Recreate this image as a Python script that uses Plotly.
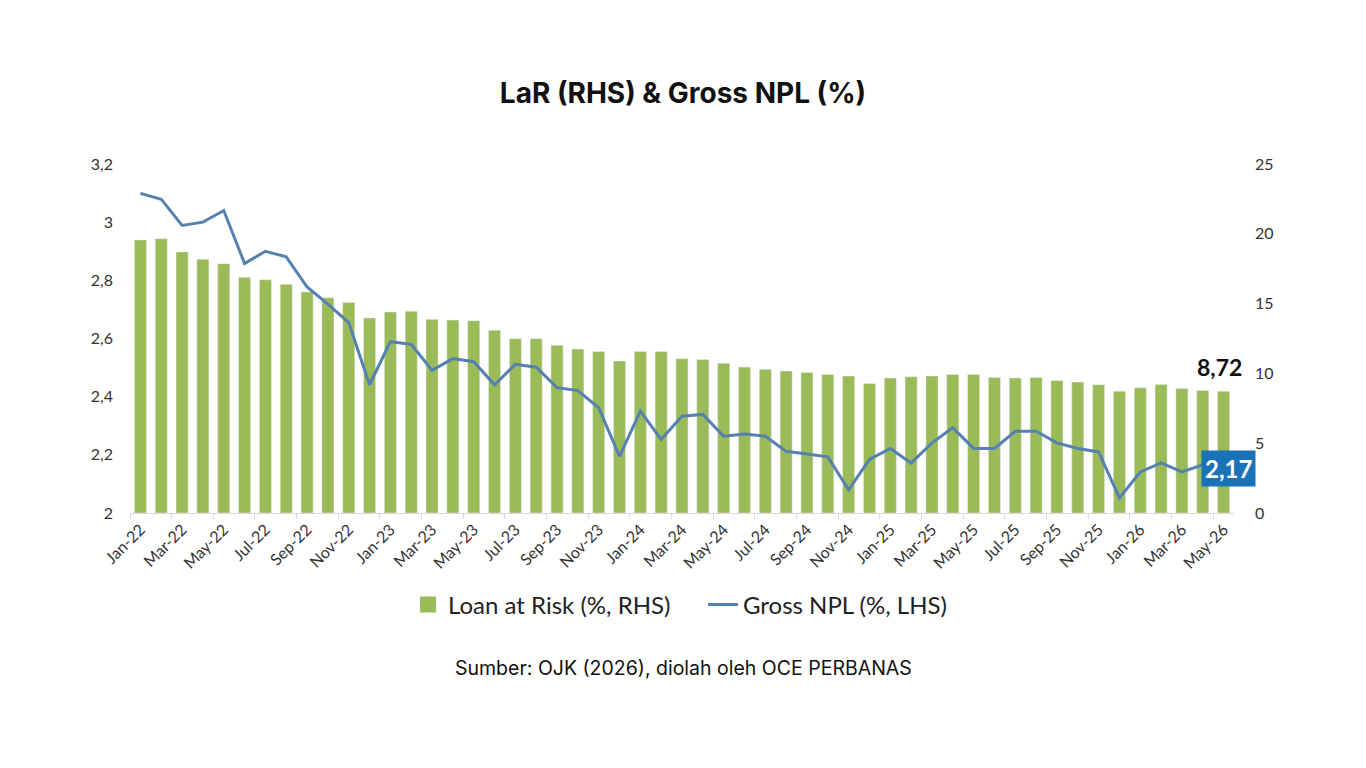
import plotly.graph_objects as go

months = ["Jan-22","Feb-22","Mar-22","Apr-22","May-22","Jun-22","Jul-22","Aug-22","Sep-22","Oct-22","Nov-22","Dec-22",
          "Jan-23","Feb-23","Mar-23","Apr-23","May-23","Jun-23","Jul-23","Aug-23","Sep-23","Oct-23","Nov-23","Dec-23",
          "Jan-24","Feb-24","Mar-24","Apr-24","May-24","Jun-24","Jul-24","Aug-24","Sep-24","Oct-24","Nov-24","Dec-24",
          "Jan-25","Feb-25","Mar-25","Apr-25","May-25","Jun-25","Jul-25","Aug-25","Sep-25","Oct-25","Nov-25","Dec-25",
          "Jan-26","Feb-26","Mar-26","Apr-26","May-26"]

lar = [19.56, 19.65, 18.70, 18.17, 17.86, 16.88, 16.71, 16.38, 15.83, 15.42, 15.07, 13.97,
       14.40, 14.45, 13.87, 13.82, 13.78, 13.09, 12.49, 12.49, 12.01, 11.75, 11.56, 10.89,
       11.56, 11.56, 11.05, 11.00, 10.72, 10.45, 10.29, 10.17, 10.07, 9.93, 9.81, 9.28,
       9.67, 9.76, 9.81, 9.93, 9.93, 9.71, 9.67, 9.71, 9.50, 9.38, 9.19, 8.73,
       8.97, 9.21, 8.92, 8.78, 8.72]

npl = [3.099, 3.079, 2.989, 3.000, 3.040, 2.858, 2.900, 2.881, 2.777, 2.718, 2.655, 2.441,
       2.589, 2.580, 2.491, 2.531, 2.520, 2.441, 2.511, 2.501, 2.431, 2.421, 2.362, 2.195,
       2.350, 2.253, 2.333, 2.339, 2.264, 2.272, 2.264, 2.212, 2.203, 2.193, 2.080, 2.184,
       2.222, 2.172, 2.241, 2.293, 2.222, 2.222, 2.281, 2.281, 2.241, 2.222, 2.210, 2.052,
       2.141, 2.172, 2.141, 2.166, 2.170]

left_vals = [2, 2.2, 2.4, 2.6, 2.8, 3, 3.2]
left_text = ["2", "2,2", "2,4", "2,6", "2,8", "3", "3,2"]
right_vals = [0, 5, 10, 15, 20, 25]
right_text = ["0", "5", "10", "15", "20", "25"]

title_text = "LaR (RHS) & Gross NPL (%)"
source_text = "Sumber: OJK (2026), diolah oleh OCE PERBANAS"
lar_label = "8,72"
npl_label = "2,17"

GREEN = "#9bbb59"
BLUE = "#5580b0"

# the page has an 8px body margin; lay out in page pixels minus that offset
OFF = 8
L, R, T, B = 130 - OFF, 1234 - OFF, 164 - OFF, 513 - OFF
W, H = R - L, B - T

fig = go.Figure()
# bars on primary axis (shown on right), line on overlaying axis (shown on left) -> line on top
fig.add_trace(go.Bar(x=months, y=lar, name="Loan at Risk (%, RHS)", marker_color=GREEN,
                     yaxis="y", showlegend=False))
# legend-only entry with a larger square swatch
fig.add_trace(go.Scatter(x=[None], y=[None], name="Loan at Risk (%, RHS)", mode="markers",
                         marker=dict(symbol="square", size=16, color=GREEN), yaxis="y"))
fig.add_trace(go.Scatter(x=months, y=npl, name="Gross NPL (%, LHS)", mode="lines",
                         line=dict(color=BLUE, width=3), yaxis="y2"))

tickfont = dict(family="Lato", size=16, color="#333")

fig.update_layout(
    width=1366, height=768,
    margin=dict(l=L, r=1366 - R, t=T, b=768 - B, autoexpand=False),
    paper_bgcolor="white", plot_bgcolor="white",
    bargap=0.42,
    showlegend=True,
    legend=dict(orientation="h", x=((703 - OFF) - L) / W, xanchor="center",
                y=(B - (605 - OFF)) / H, yanchor="middle",
                font=dict(family="Lato", size=24, color="#222"), traceorder="normal",
                itemwidth=30, itemsizing="trace", entrywidth=250, entrywidthmode="pixels"),
    xaxis=dict(type="category", tickangle=-45, dtick=2, tickson="boundaries",
               range=[-0.5, len(months) - 0.5],
               ticks="outside", ticklen=5, tickcolor="#d9d9d9", automargin=False,
               showline=True, linecolor="#d9d9d9", linewidth=1, showgrid=False,
               tickfont=tickfont),
    yaxis=dict(range=[0, 25], tickvals=right_vals, ticktext=right_text, side="right",
               showgrid=False, zeroline=False, showline=False, ticks="", automargin=False,
               ticklabelstandoff=20, tickfont=tickfont),
    yaxis2=dict(range=[2, 3.2], tickvals=left_vals, ticktext=left_text, overlaying="y",
                side="left", showgrid=False, zeroline=False, showline=False, ticks="",
                automargin=False, ticklabelstandoff=16, tickfont=tickfont),
    title=dict(text="<b>" + title_text + "</b>", x=(683 - OFF) / 1366, xanchor="center",
               y=1 - (93 - OFF) / 768, yanchor="middle",
               font=dict(family="Inter", size=28, color="#111")),
    annotations=[
        dict(text="<b>" + lar_label + "</b>", x=months[-1], y=lar[-1], xref="x", yref="y",
             xanchor="center", yanchor="bottom", yshift=8, xshift=-4, showarrow=False,
             font=dict(family="Lato", size=23, color="#111")),
        dict(text="<b>" + npl_label + "</b>", x=months[-1], y=npl[-1], xref="x", yref="y2",
             xanchor="center", yanchor="middle", xshift=5, yshift=-5, showarrow=False,
             bgcolor="#1a72b8", borderpad=3,
             font=dict(family="Lato", size=24, color="white")),
        dict(text=source_text, x=((683 - OFF) - L) / W, y=(B - (668 - OFF)) / H,
             xref="paper", yref="paper", xanchor="center", yanchor="middle",
             showarrow=False, font=dict(family="Inter", size=19.5, color="#111")),
    ],
)

fig.write_html("out.html")
